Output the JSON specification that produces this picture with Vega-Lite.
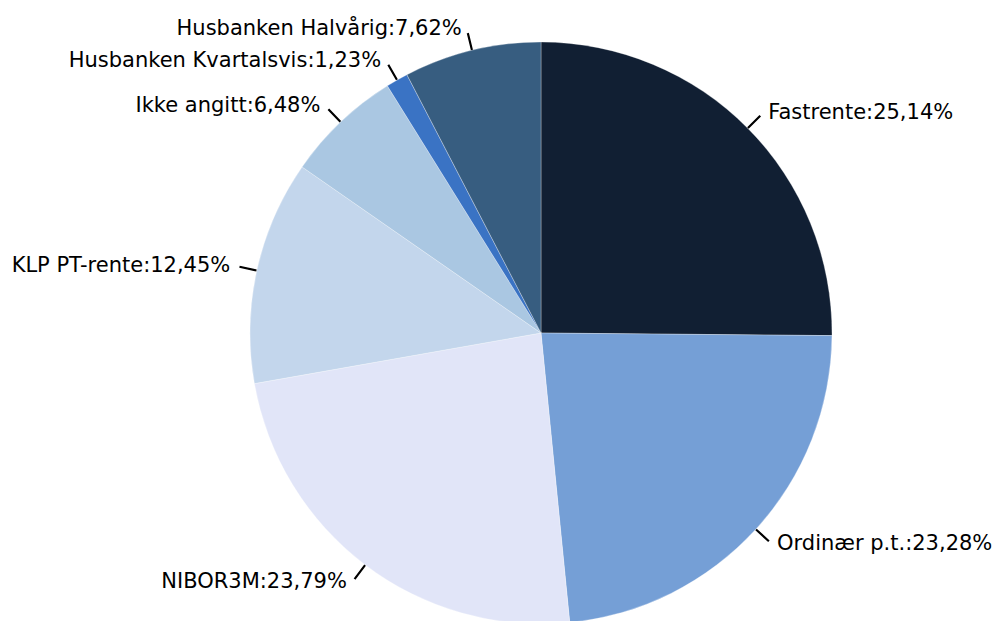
{
  "$schema": "https://vega.github.io/schema/vega-lite/v6.json",
  "width": 920,
  "height": 576,
  "autosize": "none",
  "padding": {"left": 81, "top": 45, "right": 1, "bottom": 0},
  "background": "white",
  "config": {"view": {"stroke": null}, "font": "DejaVu Sans"},
  "data": {"values": [
    {"idx": 1, "name": "Fastrente", "value": 25.14},
    {"idx": 2, "name": "Ordinær p.t.", "value": 23.28},
    {"idx": 3, "name": "NIBOR3M", "value": 23.79},
    {"idx": 4, "name": "KLP PT-rente", "value": 12.45},
    {"idx": 5, "name": "Ikke angitt", "value": 6.48},
    {"idx": 6, "name": "Husbanken Kvartalsvis", "value": 1.23},
    {"idx": 7, "name": "Husbanken Halvårig", "value": 7.62}
  ]},
  "transform": [
    {"window": [{"op": "sum", "field": "value", "as": "cum"}], "sort": [{"field": "idx", "order": "ascending"}], "frame": [null, 0]},
    {"calculate": "datum.cum - datum.value / 2", "as": "mid"},
    {"calculate": "datum.mid - 0.02", "as": "m0"},
    {"calculate": "datum.mid + 0.02", "as": "m1"},
    {"calculate": "datum.mid < 49.995 ? 'right' : 'left'", "as": "side"},
    {"calculate": "datum.name + ':' + replace(format(datum.value, '.2f'), '.', ',') + '%'", "as": "label"}
  ],
  "layer": [
    {
      "mark": {"type": "arc", "outerRadius": 291, "stroke": "white", "strokeWidth": 0.3},
      "encoding": {
        "theta": {"field": "value", "type": "quantitative", "stack": true, "scale": {"domain": [0, 99.99]}},
        "order": {"field": "idx", "type": "quantitative"},
        "color": {"field": "name", "type": "nominal", "legend": null,
          "scale": {"domain": ["Fastrente", "Ordinær p.t.", "NIBOR3M", "KLP PT-rente", "Ikke angitt", "Husbanken Kvartalsvis", "Husbanken Halvårig"],
                    "range": ["#111f33", "#759fd6", "#e1e5f8", "#c3d6ec", "#aac7e2", "#3a73c4", "#375d80"]}}
      }
    },
    {
      "mark": {"type": "arc", "radius": 308, "radius2": 292, "fill": "black", "stroke": "black", "strokeWidth": 1.4},
      "encoding": {
        "theta": {"field": "m0", "type": "quantitative", "stack": null},
        "theta2": {"field": "m1"}
      }
    },
    {
      "transform": [{"filter": "datum.side == 'right'"}],
      "mark": {"type": "text", "radius": 313, "align": "left", "baseline": "middle", "dx": 5, "fontSize": 21, "font": "DejaVu Sans", "color": "black"},
      "encoding": {
        "theta": {"field": "mid", "type": "quantitative", "stack": null},
        "text": {"field": "label", "type": "nominal"}
      }
    },
    {
      "transform": [{"filter": "datum.side == 'left'"}],
      "mark": {"type": "text", "radius": 313, "align": "right", "baseline": "middle", "dx": -5, "fontSize": 21, "font": "DejaVu Sans", "color": "black"},
      "encoding": {
        "theta": {"field": "mid", "type": "quantitative", "stack": null},
        "text": {"field": "label", "type": "nominal"}
      }
    }
  ]
}
